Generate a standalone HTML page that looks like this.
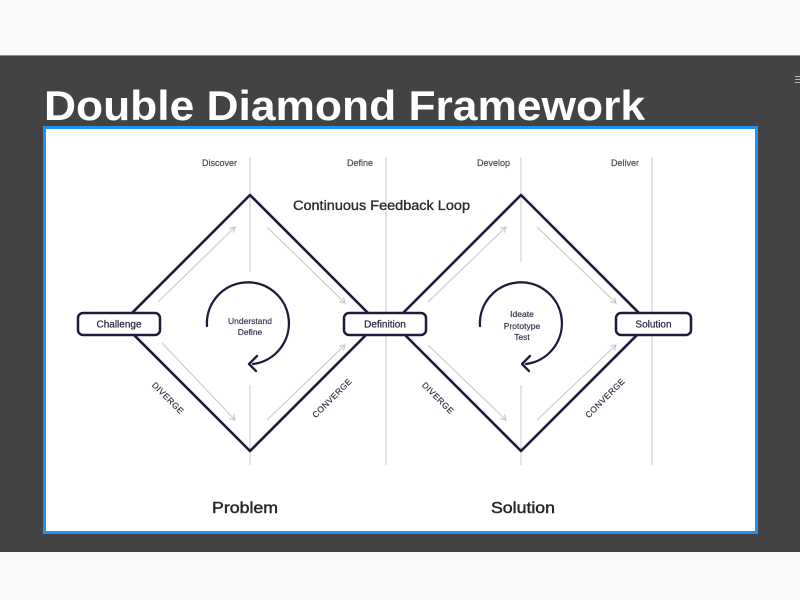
<!DOCTYPE html>
<html>
<head>
<meta charset="utf-8">
<style>
  html,body{margin:0;padding:0;background:#fafafc;}
  svg{display:block;}
  text{font-family:"Liberation Sans",sans-serif;}
</style>
</head>
<body>
<svg width="800" height="600" viewBox="0 0 800 600" xmlns="http://www.w3.org/2000/svg">
  <defs>
    <marker id="ah" markerWidth="8" markerHeight="8" refX="6" refY="4" orient="auto" markerUnits="userSpaceOnUse">
      <path d="M1,1 L6,4 L1,7" fill="none" stroke="#c4c4ca" stroke-width="1.1"/>
    </marker>
  </defs>
  <!-- page background -->
  <rect x="0" y="0" width="800" height="600" fill="#fafafc"/>
  <!-- dark band -->
  <rect x="0" y="55" width="800" height="497" fill="#434245"/>
  <line x1="0" y1="55.5" x2="800" y2="55.5" stroke="#8a898d" stroke-width="1"/>
  <!-- tiny icon -->
  <g stroke="#b9b9bd" stroke-width="1">
    <line x1="795" y1="76.5" x2="800" y2="76.5"/>
    <line x1="795" y1="79.5" x2="800" y2="79.5"/>
    <line x1="795" y1="82.5" x2="800" y2="82.5"/>
  </g>
  <!-- title -->
  <text x="44" y="120" font-size="42" font-weight="bold" fill="#ffffff" textLength="601" lengthAdjust="spacingAndGlyphs">Double Diamond Framework</text>

  <!-- frame -->
  <rect x="44.5" y="127.5" width="712" height="405" fill="#ffffff" stroke="#2290f0" stroke-width="3"/>

  <!-- vertical guide lines -->
  <g stroke="#d2d2d6" stroke-width="1.2">
    <line x1="250" y1="157" x2="250" y2="272"/>
    <line x1="250" y1="385" x2="250" y2="465"/>
    <line x1="386" y1="157" x2="386" y2="465"/>
    <line x1="521" y1="157" x2="521" y2="262"/>
    <line x1="521" y1="385" x2="521" y2="465"/>
    <line x1="652" y1="157" x2="652" y2="465"/>
  </g>

  <!-- phase labels -->
  <g font-size="9" fill="#4a4a58" stroke="#4a4a58" stroke-width="0.2" text-anchor="end">
    <text x="237" y="166">Discover</text>
    <text x="373" y="166">Define</text>
    <text x="510" y="166">Develop</text>
    <text x="639" y="166">Deliver</text>
  </g>

  <!-- continuous feedback loop -->
  <text x="293" y="210" font-size="13.5" fill="#2a2a30" stroke="#2a2a30" stroke-width="0.35" textLength="177" lengthAdjust="spacingAndGlyphs">Continuous Feedback Loop</text>

  <!-- grey inner arrows -->
  <g stroke="#cacace" stroke-width="1.1" fill="none" marker-end="url(#ah)">
    <line x1="158" y1="302" x2="235" y2="227"/>
    <line x1="267" y1="227" x2="345" y2="303"/>
    <line x1="162" y1="343" x2="235" y2="420"/>
    <line x1="267" y1="420" x2="345" y2="345"/>
    <line x1="428" y1="302" x2="506" y2="227"/>
    <line x1="537" y1="227" x2="616" y2="303"/>
    <line x1="428" y1="345" x2="506" y2="420"/>
    <line x1="537" y1="420" x2="616" y2="345"/>
  </g>

  <!-- diamonds -->
  <g fill="none" stroke="#1d1a3d" stroke-width="2.6" stroke-linejoin="round">
    <path d="M250 195 L378 323 L250 451 L122 323 Z"/>
    <path d="M521 195 L649 323 L521 451 L393 323 Z"/>
  </g>

  <!-- circular arrows -->
  <g fill="none" stroke="#1d1a3d" stroke-width="2.3" stroke-linecap="round" stroke-linejoin="round">
    <path d="M207 326 A41 41 0 1 1 253 364"/>
    <polyline points="257,356 249,364 256,371"/>
    <path d="M480 326 A41 41 0 1 1 526 364"/>
    <polyline points="530,356 522,364 529,371"/>
  </g>

  <!-- circle labels -->
  <g font-size="8.5" fill="#3a3a52" stroke="#3a3a52" stroke-width="0.2" text-anchor="middle">
    <text x="250" y="324">Understand</text>
    <text x="250" y="335">Define</text>
    <text x="522" y="317">Ideate</text>
    <text x="522" y="329">Prototype</text>
    <text x="522" y="340">Test</text>
  </g>

  <!-- boxes -->
  <g fill="#ffffff" stroke="#1d1a3d" stroke-width="2.5">
    <rect x="78" y="313" width="82" height="22" rx="5"/>
    <rect x="344" y="313" width="82" height="22" rx="5"/>
    <rect x="616" y="313" width="75" height="22" rx="5"/>
  </g>
  <g font-size="10" fill="#2a2a44" stroke="#2a2a44" stroke-width="0.25" text-anchor="middle">
    <text x="119" y="327.5">Challenge</text>
    <text x="385" y="327.5">Definition</text>
    <text x="653.5" y="327.5">Solution</text>
  </g>

  <!-- diverge / converge -->
  <g font-size="8.5" fill="#33334a" stroke="#33334a" stroke-width="0.2" text-anchor="middle" letter-spacing="0.4">
    <text x="168" y="401" transform="rotate(45 168 398)">DIVERGE</text>
    <text x="332" y="401" transform="rotate(-45 332 398)">CONVERGE</text>
    <text x="438" y="401" transform="rotate(45 438 398)">DIVERGE</text>
    <text x="605" y="401" transform="rotate(-45 605 398)">CONVERGE</text>
  </g>

  <!-- bottom labels -->
  <text x="212" y="513" font-size="16" fill="#26262c" stroke="#26262c" stroke-width="0.45" textLength="66" lengthAdjust="spacingAndGlyphs">Problem</text>
  <text x="491" y="513" font-size="16" fill="#26262c" stroke="#26262c" stroke-width="0.45" textLength="64" lengthAdjust="spacingAndGlyphs">Solution</text>
</svg>
</body>
</html>
